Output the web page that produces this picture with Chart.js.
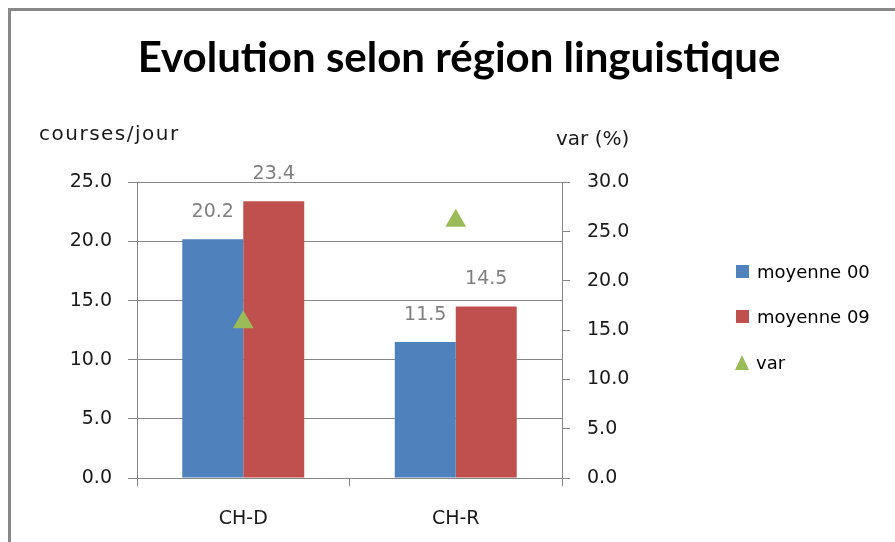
<!DOCTYPE html>
<html>
<head>
<meta charset="utf-8">
<script src="https://cdn.jsdelivr.net/npm/chart.js@4.4.1/dist/chart.umd.min.js"></script>
<style>
  html, body { margin: 0; padding: 0; background: #fff; overflow: hidden; width: 895px; height: 542px; }
  #frame { position: absolute; left: 8px; top: 8px; border-left: 3px solid #888; border-top: 3px solid #888; width: 896px; height: 531px; }
  #chart { display: block; }
  #chart-legend { position: absolute; left: 736px; top: 0; font: 18px "DejaVu Sans", sans-serif; color: #000; }
  .legend-item { position: absolute; left: 0; height: 20px; display: flex; align-items: center; white-space: nowrap; }
  .legend-box { width: 13px; height: 13px; margin-right: 8px; }
  .legend-tri { width: 0; height: 0; margin-left: -1px; margin-right: 7px; border-left: 7.5px solid transparent; border-right: 7.5px solid transparent; border-bottom: 15px solid #9bbb59; }
</style>
</head>
<body>
<div id="frame"><canvas id="chart" width="896" height="531"></canvas></div>
<div id="chart-legend"></div>
<script>
const categories = ["CH-D", "CH-R"];
const moyenne00 = [20.2, 11.5];
const moyenne09 = [23.4, 14.5];
const variation = [15.8, 26.1];
const seriesLabels = ["moyenne 00", "moyenne 09", "var"];
const leftAxisTitle = "courses/jour";
const rightAxisTitle = "var (%)";

const COLORS = {
  moyenne00: "#4f81bd",
  moyenne09: "#c0504d",
  variation: "#9bbb59",
};
const GRID = "#868686";
const TICK_FONT = { family: "DejaVu Sans", size: 19 };

const fmt = (v) => Number(v).toFixed(1);

// value labels above the bars + horizontal axis titles
const annotations = {
  id: "annotations",
  afterDatasetsDraw(chart) {
    const { ctx, chartArea } = chart;
    ctx.save();
    ctx.font = '19px "DejaVu Sans"';
    ctx.textAlign = "center";
    ctx.textBaseline = "middle";
    ctx.fillStyle = "#7f7f7f";
    chart.data.datasets.forEach((ds, i) => {
      if (ds.type === "line") return;
      chart.getDatasetMeta(i).data.forEach((bar, j) => {
        ctx.fillText(fmt(ds.data[j]), bar.x, bar.y - 27);
      });
    });
    ctx.fillStyle = "#1a1a1a";
    ctx.textAlign = "left";
    ctx.font = '20px "DejaVu Sans"';
    ctx.letterSpacing = "1.5px";
    ctx.fillText(leftAxisTitle, chartArea.left - 98, chartArea.top - 48);
    ctx.letterSpacing = "0px";
    ctx.fillText(rightAxisTitle, chartArea.right - 6, chartArea.top - 43);
    ctx.restore();
  },
};

function renderLegend(el, items) {
  const tops = [261, 306, 352];
  el.innerHTML = items
    .map(
      (i, k) =>
        `<span class="legend-item" style="top:${tops[k]}px">` +
        (i.triangle
          ? `<span class="legend-tri"></span>`
          : `<span class="legend-box" style="background:${i.color}"></span>`) +
        `${i.label}</span>`
    )
    .join("");
}

renderLegend(document.getElementById("chart-legend"), [
  { color: COLORS.moyenne00, label: seriesLabels[0] },
  { color: COLORS.moyenne09, label: seriesLabels[1] },
  { color: COLORS.variation, label: seriesLabels[2], triangle: true },
]);

new Chart(document.getElementById("chart"), {
  type: "bar",
  data: {
    labels: categories,
    datasets: [
      {
        label: seriesLabels[2],
        type: "line",
        data: variation,
        yAxisID: "y1",
        showLine: false,
        pointStyle: "triangle",
        pointRadius: 12,
        pointHoverRadius: 12,
        pointBackgroundColor: COLORS.variation,
        pointBorderColor: COLORS.variation,
        pointBorderWidth: 0,
        order: 0,
      },
      {
        label: seriesLabels[0],
        data: moyenne00,
        yAxisID: "y",
        backgroundColor: COLORS.moyenne00,
        categoryPercentage: 0.574,
        barPercentage: 1,
        order: 1,
      },
      {
        label: seriesLabels[1],
        data: moyenne09,
        yAxisID: "y",
        backgroundColor: COLORS.moyenne09,
        categoryPercentage: 0.574,
        barPercentage: 1,
        order: 1,
      },
    ],
  },
  options: {
    responsive: false,
    animation: false,
    layout: { padding: 0 },
    plugins: {
      legend: { display: false },
      tooltip: { enabled: false },
      title: {
        display: true,
        text: "Evolution selon région linguistique",
        color: "#000",
        font: { family: "Lato", weight: "bold", size: 42 },
        padding: { top: 22, bottom: 99 },
      },
    },
    scales: {
      x: {
        grid: { display: true, drawOnChartArea: false, drawTicks: true, tickLength: 8, color: GRID, offset: true },
        border: { color: GRID },
        ticks: { font: TICK_FONT, color: "#1a1a1a", padding: 22 },
        afterFit(s) { s.height = 64; },
      },
      y: {
        position: "left",
        min: 0,
        max: 25,
        ticks: { stepSize: 5, callback: fmt, font: TICK_FONT, color: "#1a1a1a", padding: 16 },
        grid: { color: GRID, tickLength: 9 },
        border: { color: GRID },
        afterFit(s) { s.width = 126; },
      },
      y1: {
        position: "right",
        min: 0,
        max: 30,
        ticks: { stepSize: 5, callback: fmt, font: TICK_FONT, color: "#1a1a1a", padding: 17 },
        grid: { drawOnChartArea: false, tickLength: 8, color: GRID },
        border: { color: GRID },
        afterFit(s) { s.width = 345; },
      },
    },
  },
  plugins: [annotations],
});
</script>
</body>
</html>
